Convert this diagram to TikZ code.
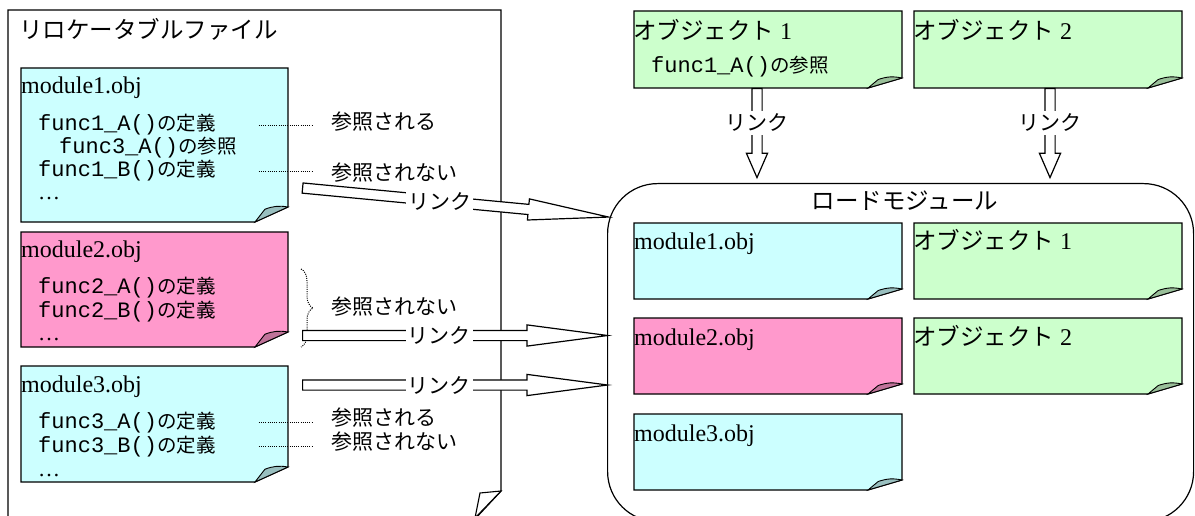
\documentclass[tikz,border=0pt]{standalone}
\usepackage{fontspec}
\setmainfont{Liberation Serif}
\setmonofont{Liberation Mono}
\newfontfamily\jp{Noto Sans CJK JP}
\usepackage{tikz}
\usetikzlibrary{calc,shapes.arrows,decorations.pathreplacing}

\definecolor{modcyan}{HTML}{CCFFFF}
\definecolor{modpink}{HTML}{FF99CC}
\definecolor{objgreen}{HTML}{CCFFCC}

\newcommand\jpsmall[1]{{\jp\fontsize{19.5}{19.5}\selectfont #1}}
\newcommand\jpobj[1]{{\jp\fontsize{23.5}{23.5}\selectfont #1}}
\newcommand\linkarrow[4][]{%
  \path let \p1=(#2), \p2=(#3), \n1={atan2(\y2-\y1,\x2-\x1)},
    \n2={veclen(\x2-\x1,\y2-\y1)} in
    node[linkbody,#1,anchor=tail,minimum height=\n2,rotate=\n1] at (#2) {}
    node[linklabel] at ($(#2)!#4!(#3)$) {リンク};}

\tikzset{
  memo/.style n args={3}{rectangle,inner sep=0pt,outer sep=0pt,anchor=north west,
    append after command={\pgfextra{
      \draw[line width=1.2pt,fill=#1] (\tikzlastnode.north west) -- (\tikzlastnode.north east)
        -- ([yshift=#3]\tikzlastnode.south east) -- ([xshift=-#2]\tikzlastnode.south east)
        -- (\tikzlastnode.south west) -- cycle;
      \draw[line width=0.9pt,fill=#1!75!black] ([xshift=-#2]\tikzlastnode.south east)
        -- ++(0.3*#2,0.85*#3) to[bend left=15] ([yshift=#3]\tikzlastnode.south east) -- cycle;}}},
  filememo/.style 2 args={memo={#1}{33pt}{15pt},minimum width=267pt,minimum height=#2},
  loadmemo/.style={memo={#1}{34pt}{10pt},minimum width=268pt,minimum height=76pt},
  modname/.style={anchor=base west,inner sep=0pt,font=\fontsize{24}{24}\selectfont},
  code/.style={anchor=base west,inner sep=0pt,font=\ttfamily\fontsize{22}{22}\selectfont},
  dots/.style={anchor=base west,inner sep=0pt,font=\fontsize{22}{22}\selectfont},
  objname/.style={anchor=west,inner sep=0pt,font=\fontsize{24}{24}\selectfont},
  jplabel/.style={anchor=west,inner sep=0pt,font=\jp\fontsize{21}{21}\selectfont},
  jptitle/.style={inner sep=0pt,font=\jp\fontsize{23.5}{23.5}\selectfont},
  refline/.style={line width=1pt,dash pattern=on 1pt off 1.2pt},
  linkbody/.style={single arrow,draw,fill=white,line width=1.2pt,inner xsep=0pt,inner ysep=4.5pt,
    single arrow head extend=5.5pt,single arrow tip angle=15},
  linklabel/.style={fill=white,inner xsep=2pt,inner ysep=3pt,font=\jp\fontsize{21}{21}\selectfont}
}

\begin{document}
\begin{tikzpicture}[x=1pt,y=-1pt]
\useasboundingbox (0,0) rectangle (1195,516);
% relocatable file
\draw[line width=1.3pt] (8,540) -- (8,10) -- (501,10) -- (501,491) -- (474,520);
\draw[line width=1.1pt,fill=white] (501,491) -- (480,493) -- (475,518) -- cycle;
\node[jptitle,anchor=west] (filetitle) at (19,29) {リロケータブルファイル};

\node[filememo={modcyan}{154pt}] (m1) at (21,68) {};
\node[filememo={modpink}{115pt}] (m2) at (21,232) {};
\node[filememo={modcyan}{116pt}] (m3) at (21,366) {};

\node[modname] (m1name) at (21,94) {module1.obj};
\node[code] (m1a) at (38,131) {func1\_A()\jpsmall{の定義}};
\node[code] (m1b) at (59,154) {func3\_A()\jpsmall{の参照}};
\node[code] (m1c) at (38,177) {func1\_B()\jpsmall{の定義}};
\node[dots] (m1d) at (38,200) {…};

\node[modname] (m2name) at (21,257) {module2.obj};
\node[code] (m2a) at (38,293) {func2\_A()\jpsmall{の定義}};
\node[code] (m2b) at (38,317) {func2\_B()\jpsmall{の定義}};
\node[dots] (m2c) at (38,340) {…};

\node[modname] (m3name) at (21,392) {module3.obj};
\node[code] (m3a) at (38,428) {func3\_A()\jpsmall{の定義}};
\node[code] (m3b) at (38,452) {func3\_B()\jpsmall{の定義}};
\node[dots] (m3c) at (38,476) {…};

% referenced or not
\node[jplabel] (r1a) at (331,122) {参照される};
\node[jplabel] (r1b) at (331,173) {参照されない};
\node[jplabel] (r2) at (331,307) {参照されない};
\node[jplabel] (r3a) at (331,418) {参照される};
\node[jplabel] (r3b) at (331,442) {参照されない};
\draw[refline] ([xshift=43pt]m1a.east) -- ([xshift=-18pt]r1a.west |- m1a.east);
\draw[refline] ([xshift=43pt]m1c.east) -- ([xshift=-18pt]r1b.west |- m1c.east);
\draw[refline] ([xshift=43pt]m3a.east) -- ([xshift=-18pt]r3a.west |- m3a.east);
\draw[refline] ([xshift=43pt]m3b.east) -- ([xshift=-18pt]r3b.west |- m3b.east);
\coordinate (b2top) at (301,269);
\coordinate (b2bot) at (301,347);
\draw[refline,decorate,decoration={brace,amplitude=12pt}] (b2top) -- (b2bot);

% objects
\node[memo={objgreen}{34pt}{10pt},minimum width=268pt,minimum height=77pt] (o1) at (634,11) {};
\node[memo={objgreen}{34pt}{10pt},minimum width=268pt,minimum height=77pt] (o2) at (914,11) {};
\node[objname] (o1name) at (633,30) {\jpobj{オブジェクト} 1};
\node[objname] (o2name) at (913,30) {\jpobj{オブジェクト} 2};
\node[code] (o1a) at (651,73) {func1\_A()\jpsmall{の参照}};

% load module
\node[draw,line width=1.2pt,rounded corners=50pt,minimum width=586pt,minimum height=338pt,
  anchor=north west] (load) at (607,183) {};
\node[jptitle] (loadtitle) at (905,201) {ロードモジュール};
\node[loadmemo=modcyan] (lm1) at (634,223) {};
\node[loadmemo=modpink] (lm2) at (634,318) {};
\node[loadmemo=modcyan] (lm3) at (634,414) {};
\node[loadmemo=objgreen] (lo1) at (914,223) {};
\node[loadmemo=objgreen] (lo2) at (914,318) {};
\node[modname] (lm1name) at (634,249) {module1.obj};
\node[modname] (lm2name) at (634,345) {module2.obj};
\node[modname] (lm3name) at (634,441) {module3.obj};
\node[objname] (lo1name) at (913,240) {\jpobj{オブジェクト} 1};
\node[objname] (lo2name) at (913,336) {\jpobj{オブジェクト} 2};

% links
\coordinate (t1) at (302,188);
\coordinate (h1) at (608,217);
\coordinate (t2) at (302,335.5);
\coordinate (h2) at (load.west |- t2);
\coordinate (t3) at (302,385);
\coordinate (h3) at (load.west |- t3);
\coordinate (t4) at ([xshift=-11pt]o1.south);
\coordinate (h4) at ($(t4 |- load.north)+(0,-6)$);
\coordinate (t5) at ([xshift=2pt]o2.south);
\coordinate (h5) at ($(t5 |- load.north)+(0,-6)$);
\linkarrow{t1}{h1}{0.45}
\linkarrow{t2}{h2}{0.45}
\linkarrow{t3}{h3}{0.45}
\linkarrow[single arrow tip angle=47]{t4}{h4}{0.39}
\linkarrow[single arrow tip angle=47]{t5}{h5}{0.39}
\end{tikzpicture}
\end{document}
